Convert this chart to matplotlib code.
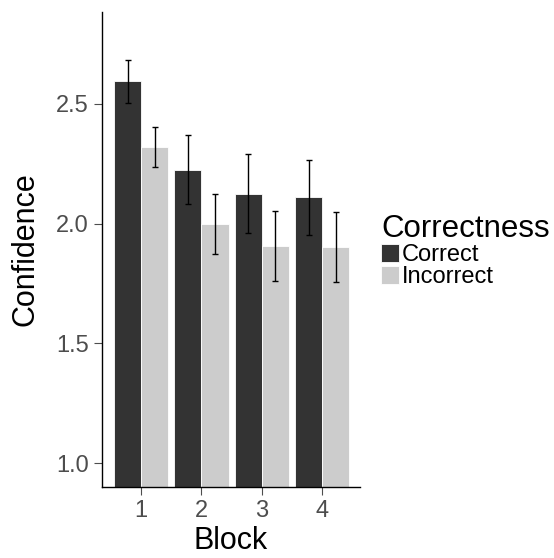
import numpy as np
import matplotlib.pyplot as plt

plt.rcParams['font.family'] = ['Liberation Sans', 'DejaVu Sans']

blocks = [1, 2, 3, 4]
groups = ["Correct", "Incorrect"]
correct_mean = [2.593, 2.224, 2.125, 2.110]
correct_err = [0.090, 0.144, 0.164, 0.156]
incorrect_mean = [2.319, 1.997, 1.907, 1.901]
incorrect_err = [0.083, 0.125, 0.147, 0.146]
colors = ["#333333", "#CCCCCC"]

fig = plt.figure(figsize=(5.54, 5.58), dpi=100)
ax = fig.add_axes([0.184, 0.127, 0.466, 0.852])

x = np.array(blocks, dtype=float)
w = 0.45
for i, (m, e) in enumerate([(correct_mean, correct_err), (incorrect_mean, incorrect_err)]):
    xs = x + (i - 0.5) * w
    ax.bar(xs, m, width=w, color=colors[i],
           edgecolor="white", linewidth=0.6, label=groups[i], zorder=2)
    ax.errorbar(xs, m, yerr=e, fmt="none", ecolor="black", elinewidth=1.0,
                capsize=2.5, capthick=1.0, zorder=3)

ax.set_xlim(0.35, 4.63)
ax.set_ylim(0.9, 2.884)
ax.set_yticks([1.0, 1.5, 2.0, 2.5])
ax.set_yticklabels(["1.0", "1.5", "2.0", "2.5"])
ax.set_xticks(blocks)
ax.set_xticklabels([str(b) for b in blocks])
ax.tick_params(colors="#4D4D4D", labelsize=17, length=5.5, width=0.8, pad=4)
for s in ["top", "right"]:
    ax.spines[s].set_visible(False)
for s in ["left", "bottom"]:
    ax.spines[s].set_linewidth(1.0)
    ax.spines[s].set_color("black")

ax.set_xlabel("Block", fontsize=22, labelpad=3)
ax.set_ylabel("Confidence", fontsize=22, labelpad=11)

leg = ax.legend(title="Correctness", loc="upper left", bbox_to_anchor=(0.688, 0.616),
                bbox_transform=fig.transFigure, frameon=False, fontsize=17,
                title_fontsize=22.5, handlelength=0.76, handleheight=0.76,
                handletextpad=0.12, labelspacing=0.0, borderaxespad=0, borderpad=0)
leg._legend_box.align = "left"

fig.savefig("out.png", dpi=100)
